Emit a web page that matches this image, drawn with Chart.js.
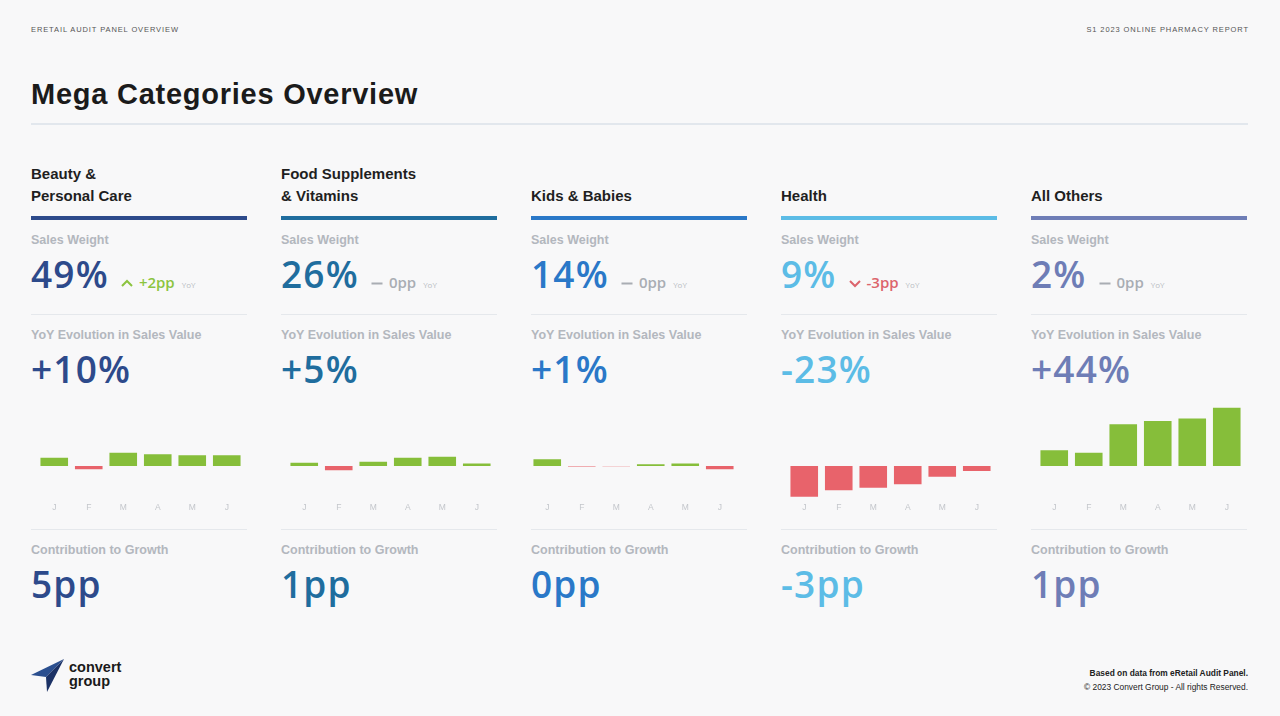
<!DOCTYPE html>
<html>
<head>
<meta charset="utf-8">
<script src="https://cdn.jsdelivr.net/npm/chart.js@4.4.1/dist/chart.umd.min.js"></script>
<style>
  html, body { margin:0; padding:0; }
  body { width:1280px; height:716px; background:#f8f8f9; position:relative; overflow:hidden; font-family:"Liberation Sans", Arial, sans-serif; }
  .abs { position:absolute; }
  .hdr { font-size:7.5px; letter-spacing:0.9px; color:#555; line-height:10px; top:24.5px; }
  .title { left:31px; top:76.5px; font-size:29px; letter-spacing:0.75px; font-weight:bold; color:#1b1b1b; line-height:34px; }
  .rule { left:31px; top:123px; width:1217px; height:2px; background:#e2e7ed; }
  .col { position:absolute; top:0; width:216px; height:716px; }
  .head { position:absolute; left:0; top:162px; height:44px; width:216px; display:flex; flex-direction:column; justify-content:flex-end; font-size:15px; font-weight:bold; color:#1f1f1f; line-height:21.5px; }
  .bar { position:absolute; left:0; top:216px; width:216px; height:4px; }
  .lbl { position:absolute; left:0; font-size:12.5px; font-weight:bold; color:#b3b7be; line-height:16px; white-space:nowrap; }
  .sep { position:absolute; left:0; width:216px; height:1px; background:#e5e8ec; }
  .big { position:absolute; left:0; font-family:"Open Sans", sans-serif; font-weight:600; font-size:37px; letter-spacing:1.2px; line-height:36px; white-space:nowrap; display:flex; align-items:baseline; }
  .chg { font-size:15px; margin-left:6px; letter-spacing:0; }
  .yoy { font-size:8px; color:#b9bdc3; margin-left:7px; font-weight:400; letter-spacing:0; }
  .ico { margin-left:12px; width:12px; height:10px; }
  .chart { position:absolute; }
  .foot { right:32px; font-size:8.4px; color:#222; line-height:10px; text-align:right; white-space:nowrap; }
  .logo { left:69px; font-size:14.5px; font-weight:bold; color:#1a1a1a; line-height:14.5px; }
</style>
</head>
<body>
<div class="abs hdr" style="left:31px;">ERETAIL AUDIT PANEL OVERVIEW</div>
<div class="abs hdr" style="right:31px;">S1 2023 ONLINE PHARMACY REPORT</div>
<div class="abs title">Mega Categories Overview</div>
<div class="abs rule"></div>

<div id="cols"></div>

<svg class="abs" style="left:29px;top:656px;" width="40" height="40" viewBox="0 0 40 40">
  <polygon points="35,3 2,19 17,21" fill="#2b4f8f"/>
  <polygon points="35,3 17,21 18,36" fill="#1c3266"/>
</svg>
<div class="abs logo" style="top:659.5px;">convert</div>
<div class="abs logo" style="top:674px;">group</div>

<div class="abs foot" style="top:668px;font-weight:bold;">Based on data from eRetail Audit Panel.</div>
<div class="abs foot" style="top:682px;">© 2023 Convert Group - All rights Reserved.</div>

<script>
// ---------- DATA ----------
const categories = [["Beauty &", "Personal Care"], ["Food Supplements", "& Vitamins"], ["Kids & Babies"], ["Health"], ["All Others"]];
const salesWeight = ["49%", "26%", "14%", "9%", "2%"];
const weightChange = ["+2pp", "0pp", "0pp", "-3pp", "0pp"];
const weightTrend = ["up", "flat", "flat", "down", "flat"];
const yoyEvolution = ["+10%", "+5%", "+1%", "-23%", "+44%"];
const contribution = ["5pp", "1pp", "0pp", "-3pp", "1pp"];
const months = ["J", "F", "M", "A", "M", "J"];
const beautyMonthly = [10, -4, 16, 14, 13, 13];
const foodMonthly = [4, -5, 5, 10, 11, 3];
const kidsMonthly = [8, -0.6, -0.3, 2, 3, -4];
const healthMonthly = [-37, -29, -26, -22, -13, -6];
const othersMonthly = [19, 16, 50, 54, 57, 70];
const monthlySeries = [beautyMonthly, foodMonthly, kidsMonthly, healthMonthly, othersMonthly];

// ---------- STYLE / LAYOUT ----------
const colColors = ["#2d4a8b", "#1f6d9e", "#2a78c8", "#5cbce6", "#6e7db6"];
const colLeft = [31, 281, 531, 781, 1031];
const chartShift = [0, 0, -7, 0, 0];
const GREEN = "#86be3a", RED = "#e8636b";
const trendColor = { up: "#8cc43f", flat: "#a9adb3", down: "#dc646c" };

function icon(t) {
  const c = trendColor[t];
  if (t === "up") return `<svg class="ico" viewBox="0 0 12 10"><polyline points="1,8 6,3 11,8" fill="none" stroke="${c}" stroke-width="2"/></svg>`;
  if (t === "down") return `<svg class="ico" viewBox="0 0 12 10"><polyline points="1,3 6,8 11,3" fill="none" stroke="${c}" stroke-width="2"/></svg>`;
  return `<svg class="ico" viewBox="0 0 12 10"><line x1="0.5" y1="5.5" x2="11.5" y2="5.5" stroke="${c}" stroke-width="2"/></svg>`;
}

const root = document.getElementById("cols");
categories.forEach((cat, i) => {
  const col = document.createElement("div");
  col.className = "col";
  col.style.left = colLeft[i] + "px";
  const color = colColors[i];
  col.innerHTML = `
    <div class="head">${cat.map(l => `<div>${l}</div>`).join("")}</div>
    <div class="bar" style="background:${color}"></div>
    <div class="lbl" style="top:232px">Sales Weight</div>
    <div class="big" style="top:256px;color:${color}"><span>${salesWeight[i]}</span>${icon(weightTrend[i])}<span class="chg" style="color:${trendColor[weightTrend[i]]}">${weightChange[i]}</span><span class="yoy">YoY</span></div>
    <div class="sep" style="top:314px"></div>
    <div class="lbl" style="top:327px">YoY Evolution in Sales Value</div>
    <div class="big" style="top:351px;color:${color}"><span>${yoyEvolution[i]}</span></div>
    <div class="sep" style="top:529px"></div>
    <div class="lbl" style="top:542px">Contribution to Growth</div>
    <div class="big" style="top:566px;color:${color}"><span>${contribution[i]}</span></div>
  `;
  root.appendChild(col);

  const holder = document.createElement("div");
  holder.className = "chart";
  const W = 207, H = 119;
  holder.style.left = (colLeft[i] + 6 + chartShift[i]) + "px";
  holder.style.top = "406px";
  holder.style.width = W + "px";
  holder.style.height = H + "px";
  const cv = document.createElement("canvas");
  cv.width = W; cv.height = H;
  cv.style.width = W + "px"; cv.style.height = H + "px";
  holder.appendChild(cv);
  document.body.appendChild(holder);

  const vals = monthlySeries[i];
  new Chart(cv, {
    type: "bar",
    data: {
      labels: months,
      datasets: [{
        data: vals,
        backgroundColor: vals.map(v => v >= 0 ? GREEN : RED),
        borderWidth: 0,
        categoryPercentage: 0.8,
        barPercentage: 1
      }]
    },
    options: {
      responsive: false,
      animation: false,
      devicePixelRatio: 1,
      layout: { padding: 0, autoPadding: false },
      plugins: { legend: { display: false }, tooltip: { enabled: false } },
      scales: {
        x: {
          grid: { display: false, drawTicks: false },
          border: { display: false },
          ticks: { color: "#c3c6cb", font: { size: 8.5, family: "Liberation Sans" }, padding: 3, maxRotation: 0, autoSkip: false },
          afterFit: s => { s.height = 25.67; }
        },
        y: { display: false, min: -40, max: 72 }
      }
    }
  });
});
</script>
</body>
</html>
